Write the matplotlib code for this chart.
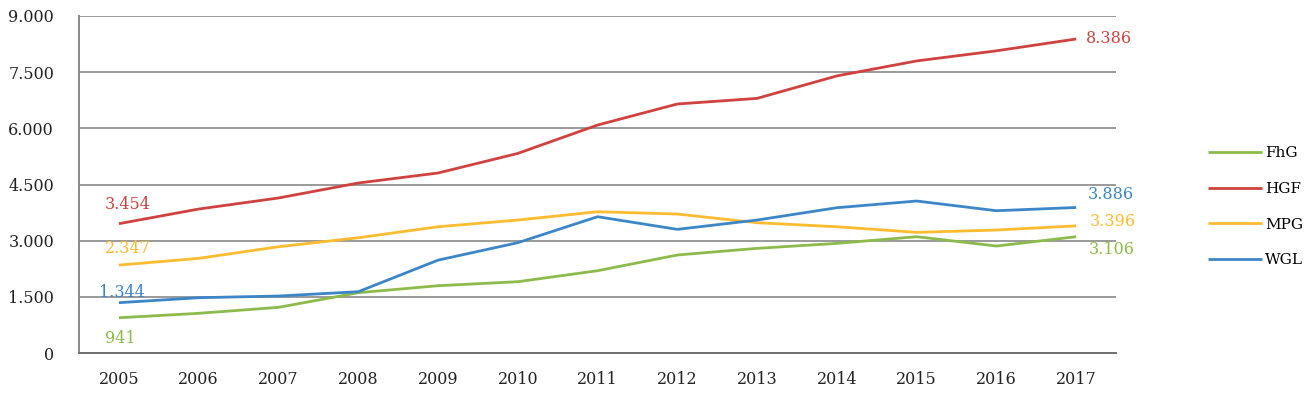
import matplotlib
matplotlib.use("Agg")
import matplotlib.pyplot as plt
from matplotlib.ticker import FuncFormatter

years = [2005, 2006, 2007, 2008, 2009, 2010, 2011, 2012, 2013, 2014, 2015, 2016, 2017]
fhg = [941, 1060, 1220, 1610, 1797, 1904, 2198, 2617, 2795, 2928, 3106, 2857, 3106]
hgf = [3454, 3845, 4140, 4540, 4807, 5330, 6088, 6650, 6800, 7400, 7800, 8070, 8386]
mpg = [2347, 2528, 2838, 3078, 3372, 3551, 3773, 3711, 3479, 3372, 3222, 3284, 3396]
wgl = [1344, 1477, 1522, 1637, 2480, 2946, 3640, 3302, 3551, 3880, 4059, 3800, 3886]
series_names = ["FhG", "HGF", "MPG", "WGL"]
y_ticks = [0, 1500, 3000, 4500, 6000, 7500, 9000]

colors = {"FhG": "#8DBB4B", "HGF": "#CF4240", "MPG": "#FDBB30", "WGL": "#3C86C7"}
data = {"FhG": fhg, "HGF": hgf, "MPG": mpg, "WGL": wgl}

def de(v):
    return f"{int(v):,}".replace(",", ".")

plt.rcParams['font.family'] = ['DejaVu Serif']

fig = plt.figure(figsize=(13.11, 4.04), dpi=100)
ax = fig.add_axes([0.0603, 0.1262, 0.7910, 0.8342])

x = list(range(len(years)))
for name in series_names:
    ax.plot(x, data[name], color=colors[name], lw=2.0, label=name, solid_capstyle='butt')

ax.set_xlim(-0.5, len(years) - 0.5)
ax.set_ylim(0, 9000)
ax.set_yticks(y_ticks)
ax.yaxis.set_major_formatter(FuncFormatter(lambda v, p: de(v)))
ax.set_xticks(x)
ax.set_xticklabels([str(y) for y in years])
ax.grid(axis='y', color='#9a9a9a', lw=1.4)
ax.set_axisbelow(True)
for s in ['top', 'right']:
    ax.spines[s].set_visible(False)
ax.spines['left'].set_color('#8a8a8a')
ax.spines['left'].set_linewidth(1.4)
ax.spines['bottom'].set_color('#707070')
ax.spines['bottom'].set_linewidth(1.4)
ax.tick_params(axis='both', length=0, labelsize=11.5, colors='#222222')
ax.tick_params(axis='y', pad=18)
ax.tick_params(axis='x', pad=13)

fs = 11.5
# first-point labels
ax.annotate(de(hgf[0]), (0, hgf[0]), xytext=(-10, 8), textcoords='offset points',
            color=colors["HGF"], fontsize=fs, ha='left', va='bottom')
ax.annotate(de(mpg[0]), (0, mpg[0]), xytext=(-10, 6), textcoords='offset points',
            color=colors["MPG"], fontsize=fs, ha='left', va='bottom')
ax.annotate(de(wgl[0]), (0, wgl[0]), xytext=(-14, 1), textcoords='offset points',
            color=colors["WGL"], fontsize=fs, ha='left', va='bottom')
ax.annotate(de(fhg[0]), (0, fhg[0]), xytext=(-10, -9), textcoords='offset points',
            color=colors["FhG"], fontsize=fs, ha='left', va='top')
# last-point labels
ax.annotate(de(hgf[-1]), (12, hgf[-1]), xytext=(7, 0), textcoords='offset points',
            color=colors["HGF"], fontsize=fs, ha='left', va='center')
ax.annotate(de(wgl[-1]), (12, wgl[-1]), xytext=(8, 9), textcoords='offset points',
            color=colors["WGL"], fontsize=fs, ha='left', va='center')
ax.annotate(de(mpg[-1]), (12, mpg[-1]), xytext=(10, 3), textcoords='offset points',
            color=colors["MPG"], fontsize=fs, ha='left', va='center')
ax.annotate(de(fhg[-1]), (12, fhg[-1]), xytext=(9, -9), textcoords='offset points',
            color=colors["FhG"], fontsize=fs, ha='left', va='center')

leg = fig.legend(loc='center left', bbox_to_anchor=(0.911, 0.488), frameon=False,
                 fontsize=11, handlelength=3.5, handletextpad=0.25, labelspacing=1.42)
for h in leg.legend_handles:
    h.set_linewidth(2.0)

fig.savefig("out.png", dpi=100)
